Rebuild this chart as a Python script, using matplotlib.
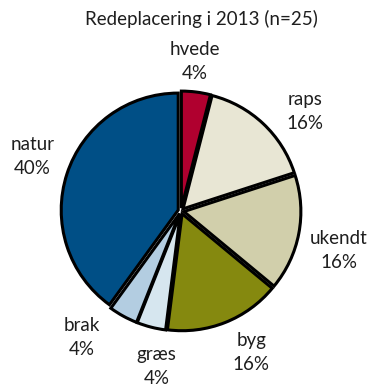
import matplotlib
matplotlib.use("Agg")
import matplotlib.pyplot as plt

# data
labels = ["hvede", "raps", "ukendt", "byg", "græs", "brak", "natur"]
shares = [4, 16, 16, 16, 4, 4, 40]
colors = ["#B0002F", "#E8E6D4", "#D1CFAB", "#85890F", "#D6E6EF", "#B3CDE1", "#004F86"]
title = "Redeplacering i 2013 (n=25)"

# label centres in pie units (radius = 1)
label_pos = [(0.12, 1.28), (1.06, 0.85), (1.35, -0.34), (0.60, -1.21),
             (-0.21, -1.33), (-0.85, -1.08), (-1.27, 0.47)]

plt.rcParams["font.family"] = ["Lato", "DejaVu Sans"]

fig = plt.figure(figsize=(3.73, 3.90), dpi=100)
ax = fig.add_axes([0, 0, 1, 1])

r_px = 117.0
cx, cy = 181.0, 211.0

wedges, texts = ax.pie(
    shares,
    colors=colors,
    startangle=90,
    counterclock=False,
    explode=[0.025] * len(shares),
    wedgeprops=dict(edgecolor="black", linewidth=2.2, joinstyle="miter"),
    labels=[f"{l}\n{s}%" for l, s in zip(labels, shares)],
    textprops=dict(fontsize=13.5, color="#1e1e1e", ha="center", va="center",
                   linespacing=1.5),
    frame=True,
)
for t, (x, y) in zip(texts, label_pos):
    t.set_position((x, y))
    t.set_ha("center")
    t.set_va("center")

ax.set_xlim(-cx / r_px, (373 - cx) / r_px)
ax.set_ylim(-(390 - cy) / r_px, cy / r_px)
ax.set_aspect("auto")
ax.axis("off")

fig.text(201 / 373, 1 - 19 / 390, title, ha="center", va="center",
         fontsize=13.5, color="#1e1e1e")

plt.savefig("out.png", dpi=100)
